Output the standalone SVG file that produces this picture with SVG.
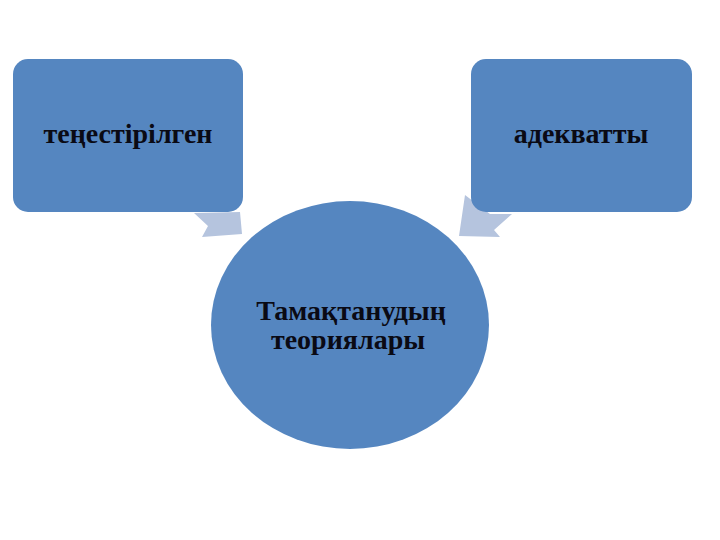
<svg xmlns="http://www.w3.org/2000/svg" width="720" height="540" viewBox="0 0 720 540">
<style>
.box{fill:#5586C0;}
.arr{fill:#B5C4DE;}
.lbl{font-family:"Liberation Serif","Times New Roman",serif;font-weight:bold;fill:#0A0A14;text-anchor:middle;}
</style>
<rect width="720" height="540" fill="#FFFFFF"/>
<g id="connectors">
<polygon class="arr" points="194,213 240,212 242,234 202,237 208,226"/>
<polygon class="arr" points="465,195 490,214 512,214 494,230 500,237 459,236"/>
</g>
<g id="node-left">
<rect class="box" x="13" y="59" width="230" height="153" rx="15" ry="15"/>
<text class="lbl" x="128" y="143" font-size="28">теңестірілген</text>
</g>
<g id="node-right">
<rect class="box" x="471" y="59" width="221" height="153" rx="15" ry="15"/>
<text class="lbl" x="581" y="143" font-size="28">адекватты</text>
</g>
<g id="node-center">
<ellipse class="box" cx="350" cy="325" rx="139" ry="124"/>
<text class="lbl" x="351" y="320" font-size="28">Тамақтанудың</text>
<text class="lbl" x="348" y="349" font-size="28">теориялары</text>
</g>
</svg>
